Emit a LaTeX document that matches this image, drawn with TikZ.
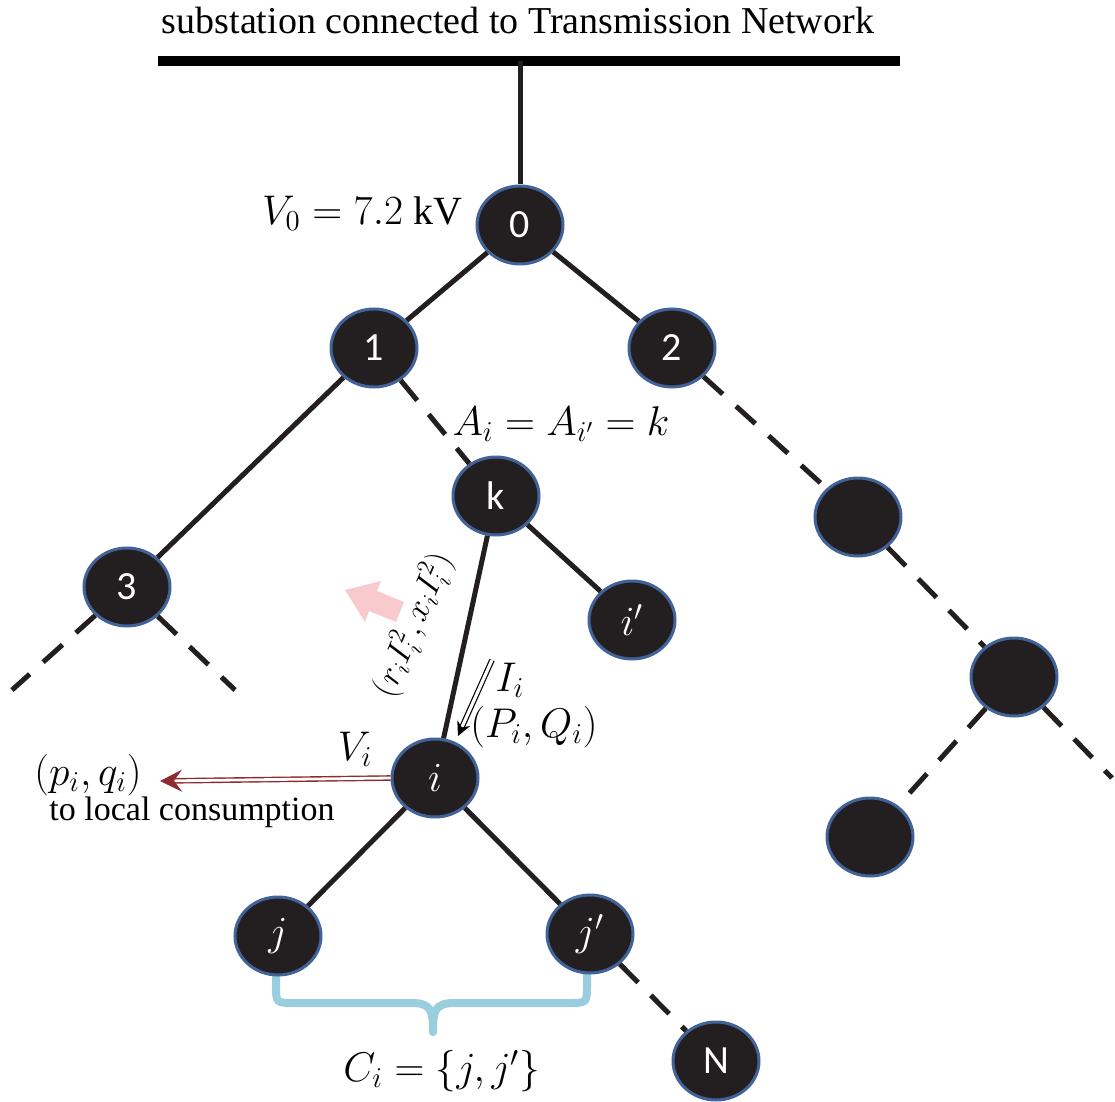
\documentclass[tikz,border=0pt]{standalone}
\usepackage{fontspec}
\setmainfont{Liberation Serif}
\newfontfamily\nodefont{Carlito}
\usetikzlibrary{arrows.meta,shapes.geometric}
\definecolor{nodefill}{HTML}{231F20}
\definecolor{nodeborder}{HTML}{41639A}
\definecolor{bracecol}{HTML}{9ACEDF}
\definecolor{pinkarrow}{HTML}{F9CACD}
\definecolor{darkred}{HTML}{8E2B30}
\begin{document}
\begin{tikzpicture}[x=0.5pt,y=-0.5pt,
  bus/.style={line width=5pt},
  edge/.style={line width=2.5pt, draw=nodefill},
  dashedge/.style={edge, dash pattern=on 13pt off 9pt},
  bnode/.style={ellipse, draw=nodeborder, line width=1.5pt, fill=nodefill,
    minimum width=43pt, minimum height=39pt, inner sep=0pt, text=white,
    font=\nodefont\fontsize{20}{24}\selectfont},
  mnode/.style={bnode, font=\fontsize{21}{24}\selectfont},
  lbl/.style={font=\fontsize{17}{20}\selectfont, inner sep=0pt},
  mlbl/.style={font=\fontsize{20}{24}\selectfont, inner sep=0pt},
  flow/.style={draw=black, double=white, double distance=1.6pt, line width=0.6pt,
    -{Stealth[length=7pt,width=7pt]}},
  consume/.style={draw=darkred, double=white, double distance=1.4pt, line width=0.7pt,
    -{Stealth[length=11pt,width=11pt,inset=4pt]}},
  bracestyle/.style={draw=bracecol, line width=4pt, line cap=round}
]
\useasboundingbox (0,0) rectangle (1115,1102);

% title and bus
\node[lbl, font=\fontsize{19}{22}\selectfont] (title) at (518,21) {substation connected to Transmission Network};
\coordinate (busL) at (158,61);
\coordinate (busR) at (900,61);
\coordinate (bustap) at (520,61);
\draw[bus] (busL) -- (busR);

% brace (behind the nodes)
\draw[bracestyle] (276,968) -- (276,985) .. controls (276,1003) .. (295,1003) -- (412,1003)
  .. controls (432,1003) and (433,1012) .. (433,1032);
\draw[bracestyle] (587,968) -- (587,985) .. controls (587,1003) .. (568,1003) -- (454,1003)
  .. controls (434,1003) and (433,1012) .. (433,1032);

% nodes
\node[bnode] (n0) at (520,225) {0};
\node[bnode] (n1) at (374,348) {1};
\node[bnode] (n2) at (672,348) {2};
\node[bnode] (nk) at (496,496) {k};
\node[bnode] (n3) at (127,587) {3};
\node[mnode] (nip) at (632,620) {$i'$};
\node[bnode] (r1) at (858,517) {};
\node[bnode] (r2) at (1014,677) {};
\node[bnode] (r3) at (870,837) {};
\node[mnode] (ni) at (435,778) {$i$};
\node[mnode] (nj) at (278,936) {$j$};
\node[mnode] (njp) at (590,934) {$j'$};
\node[bnode] (nN) at (716,1061) {N};

\coordinate (end3a) at (12,690);
\coordinate (end3b) at (235,690);
\coordinate (endr2) at (1112,778);

% edges
\draw[edge] (bustap) -- (n0);
\draw[edge] (n0) -- (n1);
\draw[edge] (n0) -- (n2);
\draw[edge] (n1) -- (n3);
\draw[dashedge] (n1) -- (nk);
\draw[dashedge] (n2) -- (r1);
\draw[dashedge] (r1) -- (r2);
\draw[dashedge] (r2) -- (r3);
\draw[dashedge] (r2) -- (endr2);
\draw[dashedge] (n3) -- (end3a);
\draw[dashedge] (n3) -- (end3b);
\draw[edge] (nk) -- (ni);
\draw[edge] (nk) -- (nip);
\draw[edge] (ni) -- (nj);
\draw[edge] (ni) -- (njp);
\draw[dashedge] (njp) -- (nN);

% labels
\node[mlbl] (v0) at (362,213) {$V_0 = 7.2\ \mathrm{kV}$};
\node[mlbl] (ai) at (561,424) {$A_i = A_{i'} = k$};
\node[mlbl, font=\fontsize{18}{22}\selectfont, rotate=67] (loss) at (413,625) {$(r_i I_i^2, x_i I_i^2)$};
\node[mlbl] (Ii) at (510,680) {$I_i$};
\node[mlbl] (PQ) at (534,727) {$(P_i, Q_i)$};
\node[mlbl] (Vi) at (355,749) {$V_i$};
\node[mlbl] (pq) at (88,775) {$(p_i, q_i)$};
\node[lbl] (local) at (192,812) {to local consumption};
\node[mlbl] (Ci) at (442,1071) {$C_i = \{j, j'\}$};

% pink loss arrow
\fill[pinkarrow] (345,590) -- (381,581) -- (377,591) -- (404,602) -- (396,622)
  -- (369,611) -- (365,622) -- cycle;

% flow arrows
\coordinate (flowS) at (492,660);
\coordinate (flowE) at (458,736);
\draw[flow] (flowS) -- (flowE);
\coordinate (consE) at (160,781);
\draw[consume] (ni.west) -- (consE);
\end{tikzpicture}
\end{document}
